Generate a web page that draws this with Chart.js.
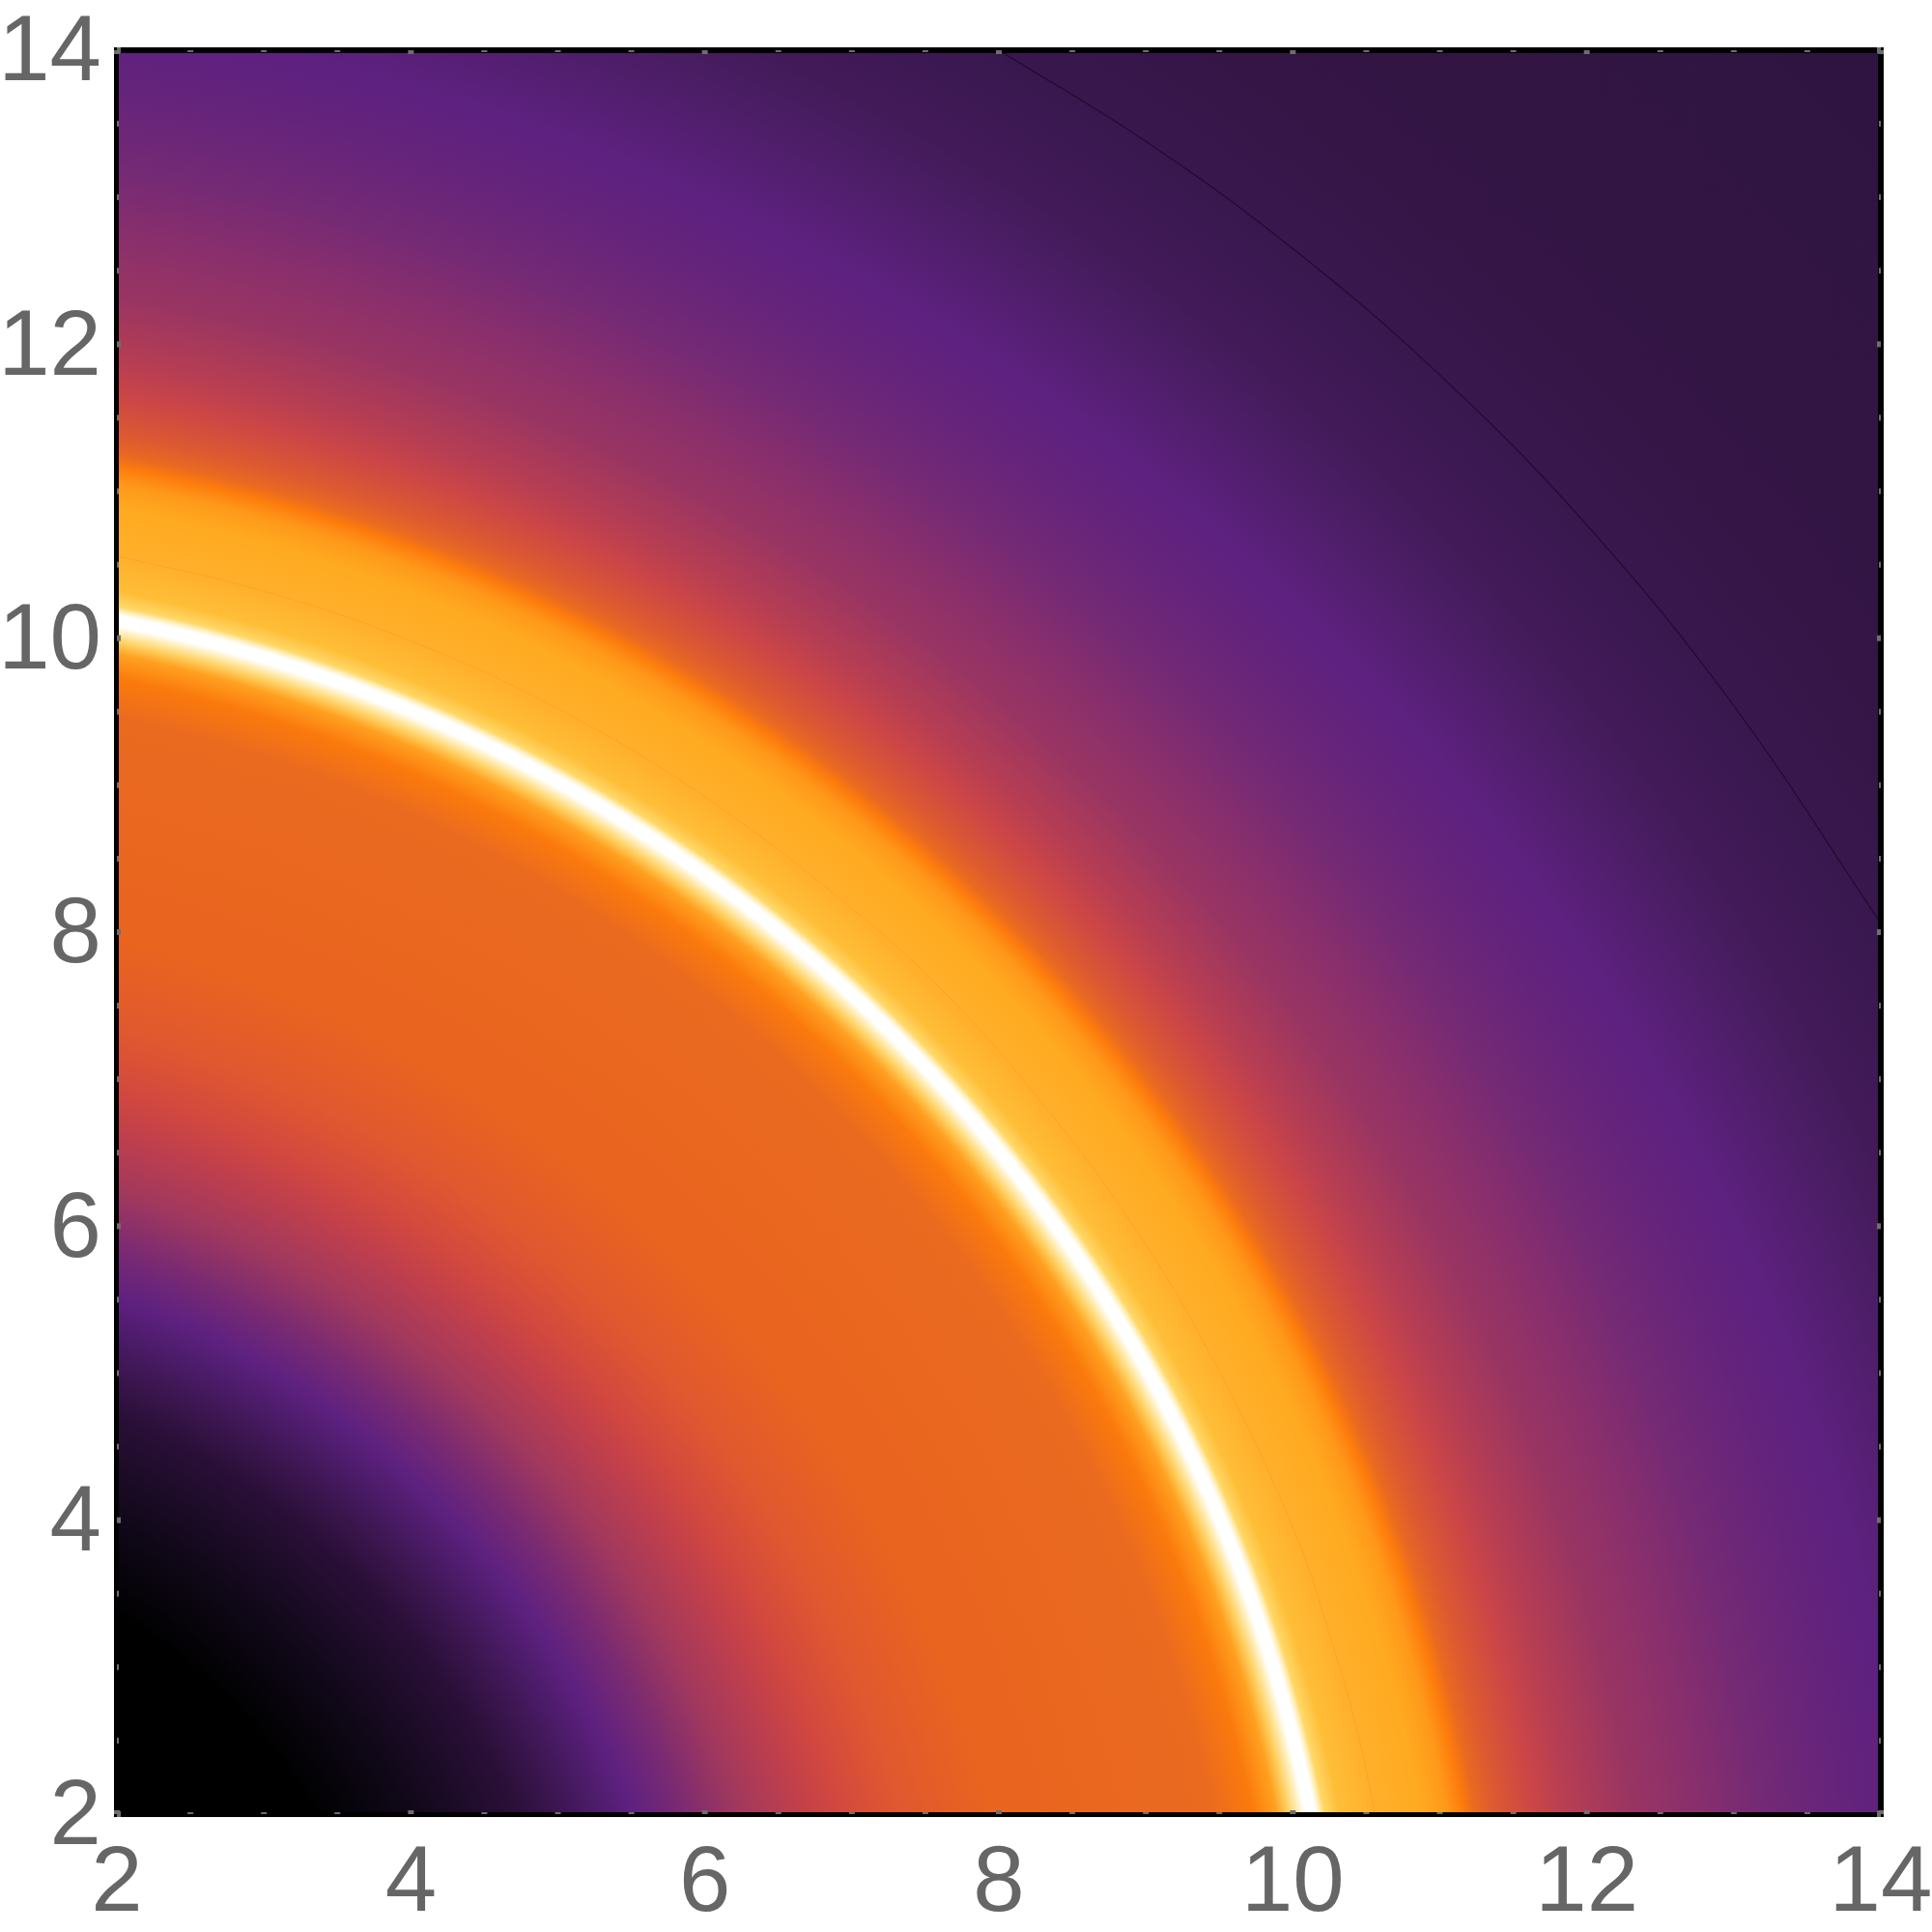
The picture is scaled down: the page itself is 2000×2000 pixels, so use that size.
<!DOCTYPE html>
<html>
<head>
<meta charset="utf-8">
<title>Density plot</title>
<script src="https://cdn.jsdelivr.net/npm/chart.js@4"></script>
<style>
    html, body { margin: 0; background: #fff; }
    canvas { display: block; }
</style>
</head>
<body>
<canvas id="densityChart" width="2000" height="2000"></canvas>
<script>
// axis
const axisMin = 2;
const axisMax = 14;
const majorTicks = [2, 4, 6, 8, 10, 12, 14];
const minorTicks = [2.5, 3, 3.5, 4.5, 5, 5.5, 6.5, 7, 7.5, 8.5, 9, 9.5, 10.5, 11, 11.5, 12.5, 13, 13.5];

// plotted region (corners of the density field)
const fieldX = [2, 14, 14, 2, 2];
const fieldY = [2, 2, 14, 14, 2];

const profileRadius = [0, 3.89, 4.47, 5.13, 5.4, 5.66, 5.87, 6.18, 6.54, 6.93, 7.2, 7.6, 8.2, 9.66, 9.93, 10.09, 10.17, 10.24, 10.28, 10.35, 10.38, 10.41, 10.51, 10.74, 11.06, 11.23, 11.34, 11.42, 11.55, 11.81, 12.03, 12.46, 12.89, 13.32, 13.75, 14.12, 14.3, 15.1, 15.4, 15.97, 17, 20];
const profileColor = ['#000000', '#000000', '#100818', '#2a0f38', '#3c1650', '#4e1c6c', '#5e2180', '#7a2a72', '#a0385e', '#c03f4c', '#d2483f', '#e0582f', '#e9641f', '#ea6a20', '#fb7a0c', '#ffa020', '#ffd060', '#fff0c0', '#ffffff', '#ffffff', '#fff0c0', '#ffd868', '#ffbe38', '#ffb02c', '#ffaa20', '#ff981a', '#fd7c0c', '#ea6a20', '#dd5a30', '#cc4646', '#b83e52', '#9a3562', '#8a2f6c', '#752a74', '#68257a', '#60227e', '#5e2180', '#491d62', '#421a58', '#3a1850', '#341545', '#2e1440'];
const profileEnd = 20;

// thin contour in the dark corner
const outerContourX = [8, 9, 10, 11, 12, 13, 14];
const outerContourY = [14, 13.38, 12.65, 11.79, 10.77, 9.54, 8.06];

// faint contour inside the yellow band
const innerContourX = [2, 3, 4, 5, 6, 7, 7.6, 8.2, 8.8, 9.4, 10, 10.3, 10.45, 10.56];
const innerContourY = [10.56, 10.32, 9.98, 9.52, 8.92, 8.16, 7.62, 6.95, 6.17, 5.2, 3.95, 3.06, 2.52, 2];

function toPoints(xs, ys) {
    return xs.map((x, i) => ({ x: x, y: ys[i] }));
}

function fieldGradient(context) {
    const chart = context.chart;
    if (!chart.chartArea) {
        return 'transparent';
    }
    const xScale = chart.scales.x;
    const yScale = chart.scales.y;
    const cx = xScale.getPixelForValue(0);
    const cy = yScale.getPixelForValue(0);
    const outer = xScale.getPixelForValue(profileEnd) - cx;
    const gradient = chart.ctx.createRadialGradient(cx, cy, 0, cx, cy, outer);
    profileRadius.forEach((r, i) => {
        gradient.addColorStop(r / profileEnd, profileColor[i]);
    });
    return gradient;
}

// black frame with the small grey tick marks sitting on it
const framePlugin = {
    id: 'frame',
    afterDatasetsDraw(chart) {
        const ctx = chart.ctx;
        const xScale = chart.scales.x;
        const yScale = chart.scales.y;
        const left = xScale.getPixelForValue(axisMin);
        const right = xScale.getPixelForValue(axisMax);
        const top = yScale.getPixelForValue(axisMax);
        const bottom = yScale.getPixelForValue(axisMin);

        ctx.save();
        ctx.fillStyle = '#000';
        ctx.fillRect(left - 3, top - 3, 5, bottom - top + 6);
        ctx.fillRect(right - 3, top - 3, 6, bottom - top + 6);
        ctx.fillRect(left - 3, top - 3, right - left + 6, 6);
        ctx.fillRect(left - 3, bottom - 2, right - left + 6, 5);

        ctx.fillStyle = '#6e6e6e';
        const drawTicks = (values, length) => {
            values.forEach(v => {
                const px = xScale.getPixelForValue(v);
                const py = yScale.getPixelForValue(v);
                ctx.fillRect(px - 3, top, 6, length);
                ctx.fillRect(px - 3, bottom - length, 6, length);
                ctx.fillRect(left, py - 3, length, 6);
                ctx.fillRect(right - length, py - 3, length, 6);
            });
        };
        drawTicks(minorTicks, 2);
        drawTicks(majorTicks, 4);
        ctx.restore();
    }
};

const fontFamily = '"Liberation Sans", Arial, sans-serif';

new Chart(document.getElementById('densityChart').getContext('2d'), {
    type: 'scatter',
    data: {
        datasets: [
            {
                label: 'outer contour',
                data: toPoints(outerContourX, outerContourY),
                showLine: true,
                tension: 0.4,
                borderColor: 'rgba(20, 5, 30, 0.55)',
                borderWidth: 1.5,
                pointRadius: 0,
                order: 1
            },
            {
                label: 'inner contour',
                data: toPoints(innerContourX, innerContourY),
                showLine: true,
                tension: 0.4,
                borderColor: 'rgba(245, 110, 10, 0.2)',
                borderWidth: 1,
                pointRadius: 0,
                order: 2
            },
            {
                label: 'field',
                data: toPoints(fieldX, fieldY),
                showLine: true,
                fill: 'shape',
                backgroundColor: fieldGradient,
                borderWidth: 0,
                pointRadius: 0,
                order: 3
            }
        ]
    },
    options: {
        responsive: false,
        animation: false,
        layout: {
            autoPadding: false,
            padding: { top: 52, right: 53, left: 0, bottom: 0 }
        },
        plugins: {
            legend: { display: false },
            tooltip: { enabled: false }
        },
        scales: {
            x: {
                type: 'linear',
                min: axisMin,
                max: axisMax,
                afterFit(scale) {
                    scale.height = 122;
                    scale.paddingLeft = 0;
                    scale.paddingRight = 0;
                },
                grid: { display: false },
                border: { display: false },
                ticks: {
                    stepSize: 2,
                    autoSkip: false,
                    maxRotation: 0,
                    color: '#666666',
                    font: { family: fontFamily, size: 96 },
                    padding: 8,
                    callback: value => majorTicks.includes(value) ? String(value) : ''
                }
            },
            y: {
                type: 'linear',
                min: axisMin,
                max: axisMax,
                afterFit(scale) {
                    scale.width = 121;
                    scale.paddingTop = 0;
                    scale.paddingBottom = 0;
                },
                grid: { display: false },
                border: { display: false },
                ticks: {
                    stepSize: 2,
                    autoSkip: false,
                    color: '#666666',
                    // two line label with a small line height nudges the digits down a few px
                    font: { family: fontFamily, size: 96, lineHeight: '10px' },
                    padding: 8,
                    callback: value => majorTicks.includes(value) ? ['', String(value)] : ''
                }
            }
        }
    },
    plugins: [framePlugin]
});
</script>
</body>
</html>
